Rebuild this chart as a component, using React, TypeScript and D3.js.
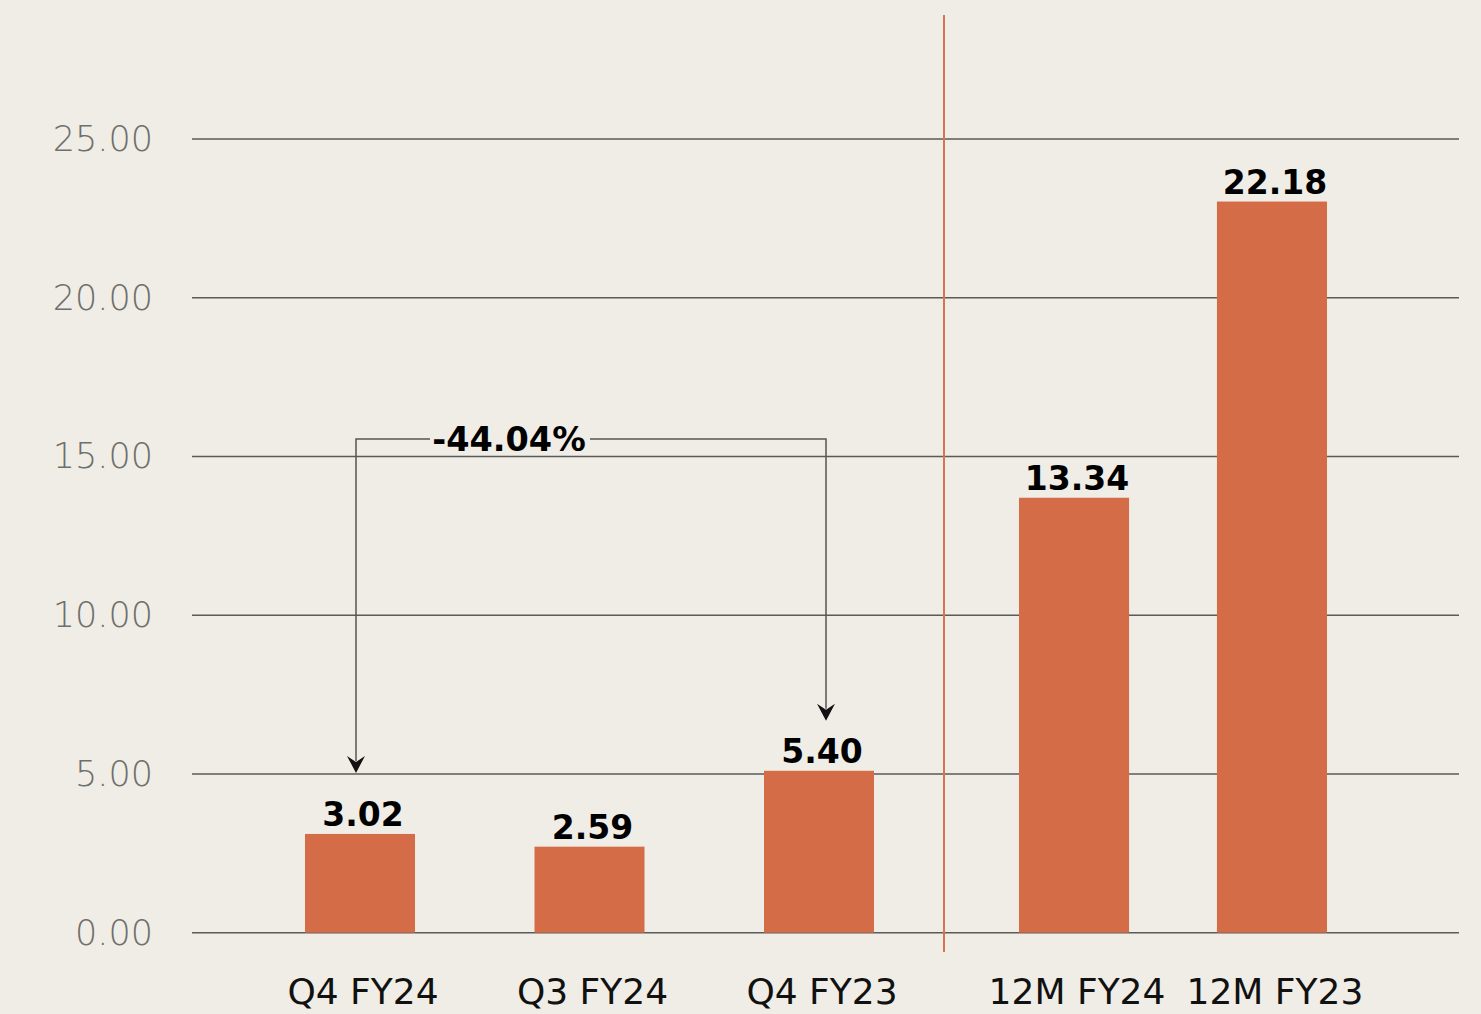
import React, { useEffect, useRef } from 'react';
import * as d3 from 'd3';

// values
const quarterCats = ['Q4 FY24', 'Q3 FY24', 'Q4 FY23'];
const quarterBars = [3.11, 2.71, 5.1];
const quarterLabels = ['3.02', '2.59', '5.40'];

const yearCats = ['12M FY24', '12M FY23'];
const yearBars = [13.7, 23.03];
const yearLabels = ['13.34', '22.18'];

const yTicks = [0, 5, 10, 15, 20, 25];
const changeLabel = '-44.04%';

const W = 1481;
const H = 1014;
const BG = '#f0ede6';
const BAR = '#d36c47';
const FONT = '"DejaVu Sans", Verdana, sans-serif';

const App = () => {
  const svgRef = useRef<SVGSVGElement>(null);

  useEffect(() => {
    document.body.style.margin = '0';
    document.body.style.background = BG;

    const svg = d3.select(svgRef.current);
    svg.selectAll('*').remove();

    const y = d3.scaleLinear().domain([0, 25]).range([932.7, 139]);
    const xLeft = d3.scaleBand<string>().domain(quarterCats).range([305, 874]).paddingInner(0.5207).paddingOuter(0);
    const xRight = d3.scaleBand<string>().domain(yearCats).range([1019, 1327]).paddingInner(0.444).paddingOuter(0);

    svg.append('rect').attr('width', W).attr('height', H).attr('fill', BG);

    // gridlines
    svg
      .append('g')
      .selectAll('line')
      .data(yTicks)
      .enter()
      .append('line')
      .attr('x1', 192)
      .attr('x2', 1459)
      .attr('y1', (d) => y(d))
      .attr('y2', (d) => y(d))
      .attr('stroke', '#5a5a58')
      .attr('stroke-width', 1.4);

    svg
      .append('g')
      .selectAll('text')
      .data(yTicks)
      .enter()
      .append('text')
      .attr('x', 153)
      .attr('y', (d) => y(d))
      .attr('text-anchor', 'end')
      .attr('dominant-baseline', 'central')
      .style('font-family', FONT)
      .style('font-weight', 300)
      .style('font-size', '35px')
      .style('fill', '#6f6f6c')
      .text((d) => d3.format('.2f')(d));

    // separator
    svg
      .append('line')
      .attr('x1', 944)
      .attr('x2', 944)
      .attr('y1', 15)
      .attr('y2', 952)
      .attr('stroke', '#d8754f')
      .attr('stroke-width', 2);

    const groups = [
      { cats: quarterCats, bars: quarterBars, labels: quarterLabels, x: xLeft },
      { cats: yearCats, bars: yearBars, labels: yearLabels, x: xRight },
    ];

    groups.forEach((g) => {
      const rows = g.cats.map((c, i) => ({ c, v: g.bars[i], l: g.labels[i] }));
      const sel = svg.append('g').selectAll('g').data(rows).enter().append('g');
      sel
        .append('rect')
        .attr('x', (d) => g.x(d.c)!)
        .attr('width', g.x.bandwidth())
        .attr('y', (d) => y(d.v))
        .attr('height', (d) => y(0) - y(d.v))
        .attr('fill', BAR);
      sel
        .append('text')
        .attr('x', (d) => g.x(d.c)! + g.x.bandwidth() / 2 + 3)
        .attr('y', (d) => y(d.v) - 8)
        .attr('text-anchor', 'middle')
        .style('font-family', FONT)
        .style('font-weight', 700)
        .style('font-size', '33px')
        .style('fill', '#000')
        .text((d) => d.l);
      sel
        .append('text')
        .attr('x', (d) => g.x(d.c)! + g.x.bandwidth() / 2 + 3)
        .attr('y', 1004)
        .attr('text-anchor', 'middle')
        .style('font-family', FONT)
        .style('font-size', '36px')
        .style('fill', '#111')
        .text((d) => d.c);
    });

    // change annotation
    const ax1 = xLeft('Q4 FY24')! + xLeft.bandwidth() / 2 - 4;
    const ax2 = xLeft('Q4 FY23')! + xLeft.bandwidth() / 2 + 7;
    const ay = y(15.55);
    const tip1 = y(quarterBars[0]) - 61;
    const tip2 = y(quarterBars[2]) - 50;
    const midX = 509;
    const stroke = '#555553';

    const path = d3.path();
    path.moveTo(ax1, tip1 - 12);
    path.lineTo(ax1, ay);
    path.lineTo(430, ay);
    path.moveTo(590, ay);
    path.lineTo(ax2, ay);
    path.lineTo(ax2, tip2 - 12);
    svg
      .append('path')
      .attr('d', path.toString())
      .attr('fill', 'none')
      .attr('stroke', stroke)
      .attr('stroke-width', 1.5);

    [
      [ax1, tip1],
      [ax2, tip2],
    ].forEach(([ax, ty]) => {
      svg
        .append('path')
        .attr('d', `M${ax - 9},${ty - 17} L${ax},${ty - 11} L${ax + 9},${ty - 17} L${ax},${ty} Z`)
        .attr('fill', '#111');
    });

    svg
      .append('text')
      .attr('x', midX)
      .attr('y', ay)
      .attr('text-anchor', 'middle')
      .attr('dominant-baseline', 'central')
      .style('font-family', FONT)
      .style('font-weight', 700)
      .style('font-size', '33.5px')
      .style('fill', '#000')
      .text(changeLabel);
  }, []);

  return (
    <div style={{ width: W, height: H, background: BG }}>
      <svg ref={svgRef} width={W} height={H} style={{ display: 'block' }} />
    </div>
  );
};

export default App;
